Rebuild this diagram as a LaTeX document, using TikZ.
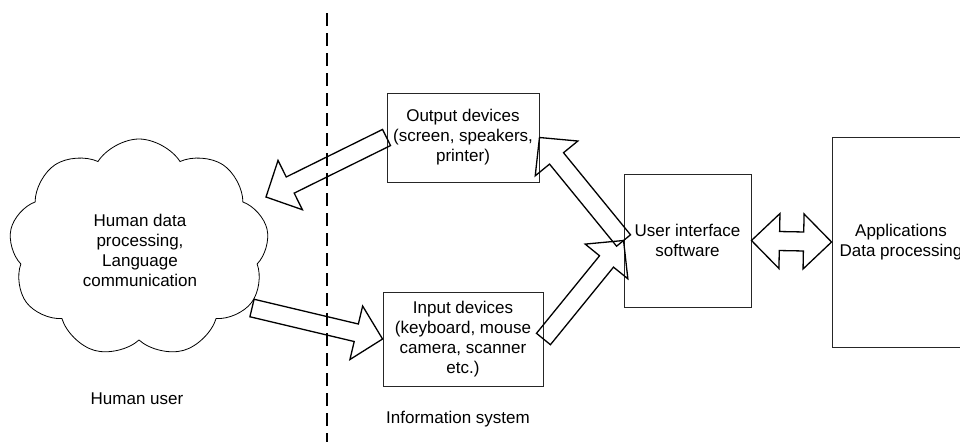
\documentclass[tikz,border=0pt]{standalone}
\usepackage{fontspec}
\setmainfont{Liberation Sans}
\usetikzlibrary{calc,shapes.symbols}

% wide outlined arrow with one head, from #1 to #2
\newcommand\blockarrow[2]{%
  \coordinate (hb) at ($(#2)!27pt!(#1)$);
  \draw[blockline]
    ($(#1)!9pt!90:(#2)$) -- ($(hb)!9pt!90:(#2)$) -- ($(hb)!27.5pt!90:(#2)$)
    -- (#2)
    -- ($(hb)!27.5pt!-90:(#2)$) -- ($(hb)!9pt!-90:(#2)$) -- ($(#1)!9pt!-90:(#2)$)
    -- cycle;}
% wide outlined arrow with a head at both ends
\newcommand\dblblockarrow[2]{%
  \coordinate (ha) at ($(#1)!28pt!(#2)$);
  \coordinate (hz) at ($(#2)!28pt!(#1)$);
  \draw[blockline]
    (#1) -- ($(ha)!27.5pt!90:(#2)$) -- ($(ha)!9.5pt!90:(#2)$)
    -- ($(hz)!9.5pt!-90:(#1)$) -- ($(hz)!27.5pt!-90:(#1)$)
    -- (#2)
    -- ($(hz)!27.5pt!90:(#1)$) -- ($(hz)!9.5pt!90:(#1)$)
    -- ($(ha)!9.5pt!-90:(#2)$) -- ($(ha)!27.5pt!-90:(#2)$)
    -- cycle;}

\begin{document}
\begin{tikzpicture}[x=1pt,y=-1pt,
  every node/.style={font=\fontsize{17}{20}\selectfont, align=center, inner sep=0pt},
  devbox/.style={draw=black!85, line width=0.9pt},
  blockline/.style={draw=black, line width=1.3pt, line join=miter},
  divider/.style={draw=black, line width=1.4pt, dash pattern=on 13pt off 7pt}]
\useasboundingbox (0,0) rectangle (960,442);
\clip (0,0) rectangle (960,442);

% boundary between the human and the information system
\draw[divider] (327,13) -- (327,442);

% the human side
\node[cloud, draw, line width=0.8pt, cloud puffs=9, cloud puff arc=115, aspect=1.15,
      minimum width=260, minimum height=218] (human) at (139,248) {};
\node (humantxt) at (140,250) {Human data\\processing,\\Language\\communication};
\node (humanlbl) at (137,399) {Human user};

% the information system
\node[devbox, minimum width=152, minimum height=89] (out) at (463,137.5)
  {Output devices\\(screen, speakers,\\printer)};
\node[devbox, minimum width=160, minimum height=94] (in) at (463,339)
  {Input devices\\(keyboard, mouse\\camera, scanner\\etc.)};
\node[devbox, minimum width=127, minimum height=133] (ui) at (687.5,240.5)
  {User interface\\software};
\node[devbox, minimum width=138, minimum height=210] (app) at (901,242)
  {Applications\\Data processing};
\node (syslbl) at (458,419) {Information system};

% data flow
\coordinate (cloudin) at (266,197);
\coordinate (cloudout) at (252,308);
\blockarrow{out.west}{cloudin}
\blockarrow{cloudout}{in.west}
\blockarrow{in.east}{ui.west}
\blockarrow{ui.west}{out.east}
\dblblockarrow{ui.east}{app.west}
\end{tikzpicture}
\end{document}
